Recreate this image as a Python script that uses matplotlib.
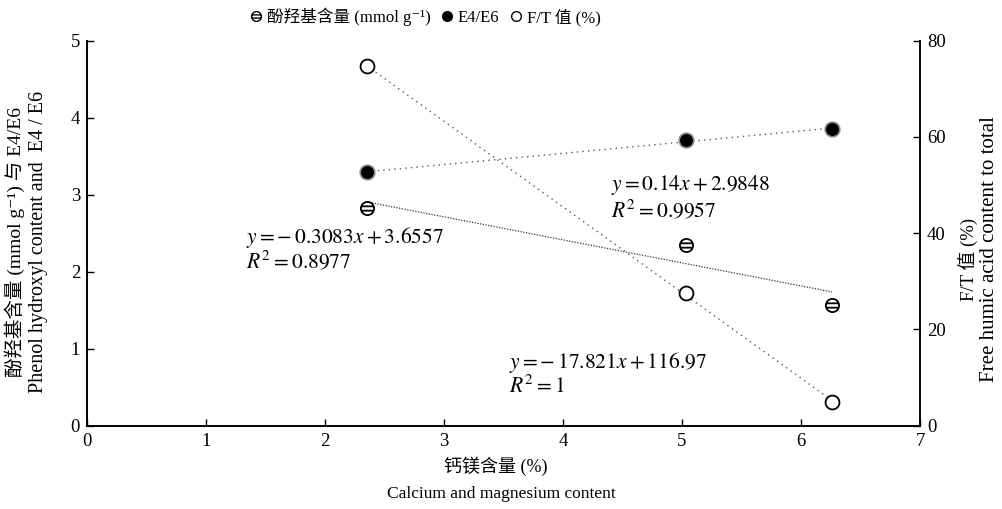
import numpy as np
import matplotlib
matplotlib.use("Agg")
import matplotlib.pyplot as plt
from matplotlib.path import Path
from matplotlib.lines import Line2D

plt.rcParams['font.family'] = ['Liberation Serif', 'Noto Sans CJK SC', 'DejaVu Serif']
plt.rcParams['mathtext.fontset'] = 'stix'
plt.rcParams['font.size'] = 13

# data
ca_mg = [2.35, 5.03, 6.26]          # 钙镁含量 (%)
phenol = [2.83, 2.35, 1.57]          # 酚羟基含量 (mmol g-1)
e4e6 = [3.29, 3.71, 3.85]            # E4/E6
ft = [74.7, 27.5, 5.0]               # F/T 值 (%)

eq_phenol = ["$y = -\\,0.3083x + 3.6557$", "$R^2 = 0.8977$"]
eq_e4e6 = ["$y = 0.14x + 2.9848$", "$R^2 = 0.9957$"]
eq_ft = ["$y = -\\,17.821x + 116.97$", "$R^2 = 1$"]

# circle with two horizontal bars (like ⊖)
circ = Path.unit_circle()
bars = Path([(-0.94, 0.33), (0.94, 0.33), (-0.94, -0.33), (0.94, -0.33)],
            [Path.MOVETO, Path.LINETO, Path.MOVETO, Path.LINETO])
hatched = Path.make_compound_path(circ, bars)

fig = plt.figure(figsize=(10.02, 5.09), dpi=100)
ax = fig.add_axes([0.0868, 0.1637, 0.8314, 0.7563])
ax2 = ax.twinx()

x = np.array(ca_mg)
xs = np.array([x.min(), x.max()])

# trend lines
p = np.polyfit(x, phenol, 1)
ax.plot(xs, np.polyval(p, xs), color='0.2', lw=0.9, ls=(0, (1, 1.2)))
p = np.polyfit(x, e4e6, 1)
ax.plot(xs, np.polyval(p, xs), color='0.35', lw=1.0, ls=(0, (1, 3)))
p = np.polyfit(x, ft, 1)
ax2.plot(xs, np.polyval(p, xs), color='0.35', lw=1.0, ls=(0, (1, 3)))

ax.plot(x, phenol, ls='none', marker=hatched, ms=9.5, mfc='white', mec='black', mew=1.3, zorder=5)
ax.plot(x, e4e6, ls='none', marker='o', ms=10.5, mfc='black', mec='0.55', mew=1.2, zorder=5)
ax2.plot(x, ft, ls='none', marker='o', ms=10, mfc='white', mec='black', mew=1.3, zorder=5)

ax.set_xlim(0, 7)
ax.set_ylim(0, 5)
ax2.set_ylim(0, 80)
ax.set_xticks(range(8))
ax.set_yticks(range(6))
ax2.set_yticks([0, 20, 40, 60, 80])
for a in (ax, ax2):
    a.spines['top'].set_visible(False)
    a.tick_params(direction='in', length=5, width=1, labelsize=13.5, pad=5)
    for s in a.spines.values():
        s.set_linewidth(1.2)

# equations
ax.text(1.34, 2.45, eq_phenol[0], fontsize=15.5, va='center')
ax.text(1.34, 2.13, eq_phenol[1], fontsize=15.5, va='center')
ax.text(4.40, 3.12, eq_e4e6[0], fontsize=15.5, va='center')
ax.text(4.40, 2.80, eq_e4e6[1], fontsize=15.5, va='center')
ax.text(3.55, 0.82, eq_ft[0], fontsize=15.5, va='center')
ax.text(3.55, 0.51, eq_ft[1], fontsize=15.5, va='center')

# axis titles
fig.text(0.015, 0.525, '酚羟基含量 (mmol g⁻¹) 与 E4/E6', rotation=90, ha='center', va='center', fontsize=14)
fig.text(0.038, 0.525, 'Phenol hydroxyl content and  E4 / E6', rotation=90, ha='center', va='center', fontsize=14.5)
fig.text(0.966, 0.49, 'F/T 值 (%)', rotation=90, ha='center', va='center', fontsize=13.5)
fig.text(0.988, 0.51, 'Free humic acid content to total', rotation=90, ha='center', va='center', fontsize=15)
fig.text(0.495, 0.084, '钙镁含量 (%)', ha='center', va='center', fontsize=13)
fig.text(0.5, 0.03, 'Calcium and magnesium content', ha='center', va='center', fontsize=12.5)

handles = [
    Line2D([], [], ls='none', marker=hatched, ms=7, mfc='white', mec='black', mew=1),
    Line2D([], [], ls='none', marker='o', ms=7, mfc='black', mec='black'),
    Line2D([], [], ls='none', marker='o', ms=7, mfc='white', mec='black', mew=1),
]
labels = ['酚羟基含量 (mmol g⁻¹)', 'E4/E6', 'F/T 值 (%)']
fig.legend(handles, labels, loc='upper left', bbox_to_anchor=(0.232, 1.014), ncol=3,
           frameon=False, handletextpad=0.15, columnspacing=0.5, handlelength=1.0, fontsize=12)

fig.savefig('out.png', dpi=100)
